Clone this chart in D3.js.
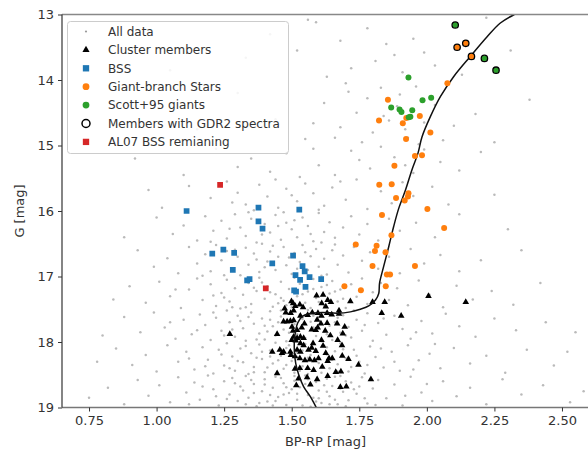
<!DOCTYPE html>
<html>
<head>
<meta charset="utf-8">
<script src="https://cdn.jsdelivr.net/npm/d3@7"></script>
<style>
  body { margin: 0; background: #fff; }
  text { font-family: "DejaVu Sans", sans-serif; }
</style>
</head>
<body>
<script>
// axis ticks
const xTicks = [0.75, 1.00, 1.25, 1.50, 1.75, 2.00, 2.25, 2.50];
const yTicks = [13, 14, 15, 16, 17, 18, 19];

// legend labels
const legendLabels = ["All data", "Cluster members", "BSS", "Giant-branch Stars",
  "Scott+95 giants", "Members with GDR2 spectra", "AL07 BSS remianing"];

// all data (BP-RP, G)
const allData = [
  [1.52,13.55],[1.56,13.08],[1.59,13.12],[1.78,13.21],[1.85,13.45],[1.88,13.62],[1.91,13.88],[1.72,13.82],[1.95,13.37],[2.03,13.78],[2.22,13.05],[1.42,13.30],[1.63,13.95],[1.99,13.58],[1.81,13.71],[2.13,13.92],[1.33,13.66],[1.68,13.40],[2.31,13.55],[1.05,13.85],
  [1.70,14.05],[1.78,14.28],[1.74,14.50],[1.83,14.12],[1.90,14.22],[1.96,14.10],[2.03,14.38],[1.86,14.62],[1.80,14.80],[1.68,14.72],[1.93,14.88],[2.10,14.70],[2.18,14.52],[1.62,14.35],[1.55,14.90],[1.99,14.65],[1.76,14.95],[1.44,14.60],[2.25,14.95],[1.89,14.40],[1.97,14.98],[1.71,14.18],[1.30,14.20],[2.06,14.92],[1.84,14.55],[1.58,14.66],[2.38,14.30],[1.15,14.75],[1.66,14.88],[1.92,14.75],
  [1.22,15.05],[1.35,15.20],[1.48,15.12],[1.60,15.30],[1.72,15.08],[1.79,15.35],[1.88,15.18],[1.95,15.42],[2.05,15.25],[1.66,15.45],[1.42,15.40],[1.53,15.48],[1.83,15.02],[2.12,15.38],[1.92,15.30],[1.10,15.45],[1.30,15.33],[1.75,15.22],[2.20,15.10],[1.58,15.05],[0.92,15.20],[1.99,15.06],
  [1.12,15.62],[1.20,15.80],[1.26,15.55],[1.30,15.72],[1.33,15.90],[1.38,15.60],[1.41,15.78],[1.45,15.95],[1.48,15.66],[1.52,15.85],[1.55,15.58],[1.58,15.73],[1.62,15.92],[1.65,15.64],[1.70,15.83],[1.74,15.52],[1.78,15.97],[1.83,15.70],[1.87,15.88],[1.91,15.56],[1.95,15.77],[2.02,15.63],[2.08,15.90],[1.02,15.95],[1.36,15.99],[1.44,15.52],[1.60,15.98],[1.28,15.87],[1.50,15.76],[1.68,15.55],[2.25,15.75],[0.97,15.68],
  [1.00,16.10],[1.06,16.35],[1.10,16.22],[1.15,16.45],[1.18,16.08],[1.21,16.30],[1.24,16.15],[1.26,16.42],[1.29,16.05],[1.31,16.25],[1.33,16.38],[1.35,16.12],[1.37,16.48],[1.40,16.20],[1.42,16.33],[1.44,16.06],[1.46,16.44],[1.48,16.18],[1.50,16.28],[1.52,16.40],[1.54,16.10],[1.56,16.23],[1.58,16.46],[1.60,16.03],[1.62,16.32],[1.64,16.17],[1.66,16.41],[1.69,16.25],[1.72,16.08],[1.75,16.36],[1.78,16.20],[1.82,16.45],[1.86,16.12],[1.90,16.30],[1.96,16.18],[2.03,16.40],[2.12,16.05],[1.27,16.27],[1.39,16.36],[1.45,16.23],[1.51,16.14],[1.57,16.35],[1.34,16.02],[1.61,16.48],[1.47,16.02],[0.88,16.40],[2.30,16.28],[1.20,16.47],
  [0.93,16.60],[0.99,16.85],[1.04,16.72],[1.08,16.95],[1.12,16.55],[1.15,16.80],[1.18,16.66],[1.20,16.92],[1.22,16.52],[1.24,16.75],[1.26,16.61],[1.28,16.88],[1.30,16.70],[1.31,16.98],[1.33,16.56],[1.34,16.82],[1.36,16.65],[1.38,16.93],[1.39,16.50],[1.41,16.77],[1.42,16.62],[1.44,16.90],[1.45,16.70],[1.47,16.55],[1.48,16.83],[1.50,16.96],[1.51,16.64],[1.53,16.78],[1.54,16.52],[1.56,16.90],[1.57,16.69],[1.59,16.58],[1.60,16.85],[1.62,16.73],[1.63,16.97],[1.65,16.60],[1.67,16.82],[1.69,16.68],[1.71,16.94],[1.73,16.55],[1.76,16.76],[1.79,16.63],[1.82,16.88],[1.86,16.70],[1.90,16.95],[1.94,16.58],[1.99,16.80],[2.05,16.67],[2.12,16.92],[2.20,16.75],[1.25,16.98],[1.37,16.74],[1.43,16.53],[1.49,16.71],[1.55,16.63],[1.61,16.99],[1.66,16.51],[1.29,16.59],[1.17,16.99],[2.35,16.60],[1.52,16.88],[1.40,16.86],
  [0.90,17.15],[0.96,17.40],[1.01,17.08],[1.05,17.30],[1.09,17.48],[1.12,17.20],[1.15,17.03],[1.17,17.36],[1.20,17.12],[1.22,17.45],[1.24,17.25],[1.26,17.05],[1.27,17.38],[1.29,17.18],[1.31,17.49],[1.32,17.28],[1.34,17.10],[1.35,17.42],[1.37,17.22],[1.38,17.02],[1.40,17.34],[1.41,17.15],[1.43,17.46],[1.44,17.27],[1.46,17.08],[1.47,17.37],[1.49,17.19],[1.50,17.47],[1.52,17.30],[1.53,17.11],[1.55,17.40],[1.56,17.23],[1.58,17.04],[1.59,17.33],[1.61,17.16],[1.62,17.45],[1.64,17.26],[1.65,17.07],[1.67,17.38],[1.68,17.20],[1.70,17.48],[1.72,17.12],[1.74,17.31],[1.76,17.03],[1.78,17.42],[1.80,17.24],[1.83,17.10],[1.86,17.36],[1.89,17.18],[1.93,17.44],[1.97,17.06],[2.01,17.28],[2.06,17.47],[2.11,17.14],[2.17,17.35],[2.24,17.22],[2.32,17.43],[2.42,17.10],[1.25,17.32],[1.33,17.47],[1.39,17.09],[1.45,17.41],[1.51,17.02],[1.57,17.48],[1.63,17.13],[1.69,17.34],[1.36,17.17],[1.42,17.24],[1.48,17.44],[1.54,17.27],[1.60,17.39],[1.66,17.23],[1.21,17.29],[1.28,17.47],[1.46,17.33],[1.58,17.19],[1.07,17.20],[0.84,17.35],
  [0.88,17.62],[0.94,17.85],[0.99,17.55],[1.03,17.78],[1.07,17.95],[1.10,17.66],[1.13,17.88],[1.16,17.58],[1.18,17.74],[1.20,17.97],[1.22,17.63],[1.24,17.83],[1.26,17.52],[1.27,17.70],[1.29,17.92],[1.30,17.60],[1.32,17.79],[1.33,17.98],[1.35,17.55],[1.36,17.72],[1.38,17.87],[1.39,17.64],[1.40,17.96],[1.42,17.53],[1.43,17.76],[1.44,17.90],[1.46,17.61],[1.47,17.81],[1.48,17.99],[1.50,17.57],[1.51,17.73],[1.52,17.88],[1.54,17.65],[1.55,17.94],[1.56,17.51],[1.58,17.78],[1.59,17.91],[1.60,17.62],[1.62,17.84],[1.63,17.54],[1.65,17.97],[1.66,17.70],[1.68,17.86],[1.69,17.59],[1.71,17.77],[1.72,17.93],[1.74,17.66],[1.76,17.83],[1.78,17.56],[1.80,17.98],[1.82,17.71],[1.85,17.89],[1.88,17.60],[1.91,17.80],[1.94,17.95],[1.98,17.68],[2.02,17.87],[2.07,17.57],[2.12,17.76],[2.18,17.92],[2.25,17.64],[2.33,17.82],[2.44,17.70],[1.25,17.90],[1.31,17.68],[1.37,17.96],[1.41,17.84],[1.45,17.70],[1.49,17.86],[1.53,17.58],[1.57,17.69],[1.61,17.99],[1.64,17.75],[1.67,17.63],[1.70,17.90],[1.34,17.62],[1.28,17.81],[1.21,17.55],[1.15,17.82],[1.40,17.75],[1.46,17.52],[1.52,17.97],[1.58,17.60],[1.63,17.88],[1.73,17.52],[1.77,17.74],[1.84,17.64],[1.96,17.85],[1.05,17.70],[0.80,17.90],[2.55,17.85],[1.42,17.66],
  [0.85,18.10],[0.91,18.35],[0.96,18.20],[1.00,18.45],[1.04,18.05],[1.08,18.30],[1.11,18.15],[1.14,18.42],[1.17,18.08],[1.19,18.27],[1.21,18.48],[1.23,18.12],[1.25,18.36],[1.26,18.02],[1.28,18.22],[1.29,18.44],[1.31,18.10],[1.32,18.31],[1.34,18.49],[1.35,18.17],[1.36,18.38],[1.38,18.04],[1.39,18.26],[1.40,18.46],[1.42,18.13],[1.43,18.33],[1.44,18.01],[1.46,18.21],[1.47,18.41],[1.48,18.09],[1.50,18.29],[1.51,18.47],[1.52,18.16],[1.54,18.37],[1.55,18.03],[1.56,18.24],[1.58,18.43],[1.59,18.11],[1.60,18.32],[1.62,18.06],[1.63,18.19],[1.64,18.40],[1.66,18.14],[1.67,18.34],[1.68,18.02],[1.70,18.25],[1.71,18.45],[1.73,18.12],[1.75,18.30],[1.77,18.48],[1.79,18.07],[1.81,18.23],[1.84,18.39],[1.87,18.15],[1.90,18.44],[1.93,18.05],[1.97,18.28],[2.01,18.18],[2.05,18.40],[2.10,18.09],[2.16,18.33],[2.22,18.21],[2.29,18.47],[2.37,18.12],[2.47,18.36],[1.27,18.40],[1.33,18.06],[1.37,18.24],[1.41,18.39],[1.45,18.28],[1.49,18.05],[1.53,18.44],[1.57,18.20],[1.61,18.47],[1.65,18.27],[1.69,18.11],[1.72,18.38],[1.30,18.29],[1.24,18.19],[1.18,18.37],[1.12,18.25],[1.36,18.46],[1.42,18.22],[1.48,18.35],[1.54,18.13],[1.58,18.29],[1.63,18.08],[1.67,18.45],[1.74,18.21],[1.78,18.35],[1.83,18.10],[1.88,18.30],[1.95,18.42],[2.03,18.03],[1.46,18.11],[1.52,18.23],[1.39,18.15],[1.56,18.49],[0.78,18.30],[2.52,18.15],
  [0.82,18.70],[0.88,18.95],[0.93,18.58],[0.97,18.82],[1.01,18.66],[1.05,18.92],[1.08,18.54],[1.11,18.77],[1.14,18.62],[1.16,18.88],[1.19,18.51],[1.21,18.72],[1.23,18.97],[1.25,18.60],[1.27,18.80],[1.28,18.55],[1.30,18.90],[1.31,18.68],[1.33,18.52],[1.34,18.85],[1.36,18.64],[1.37,18.98],[1.39,18.75],[1.40,18.57],[1.41,18.91],[1.43,18.70],[1.44,18.53],[1.45,18.84],[1.47,18.63],[1.48,18.96],[1.49,18.78],[1.51,18.59],[1.52,18.88],[1.53,18.69],[1.55,18.51],[1.56,18.81],[1.57,18.99],[1.59,18.61],[1.60,18.74],[1.61,18.93],[1.63,18.56],[1.64,18.83],[1.65,18.67],[1.67,18.95],[1.68,18.52],[1.69,18.76],[1.71,18.89],[1.72,18.62],[1.74,18.79],[1.76,18.54],[1.78,18.94],[1.80,18.71],[1.82,18.58],[1.85,18.86],[1.88,18.65],[1.91,18.97],[1.94,18.53],[1.98,18.77],[2.02,18.90],[2.06,18.60],[2.11,18.83],[2.16,18.70],[2.22,18.95],[2.28,18.57],[2.35,18.80],[2.43,18.66],[2.53,18.92],[1.26,18.87],[1.32,18.74],[1.35,18.58],[1.38,18.93],[1.42,18.81],[1.46,18.55],[1.50,18.72],[1.54,18.97],[1.58,18.85],[1.62,18.66],[1.66,18.53],[1.70,18.98],[1.73,18.72],[1.77,18.86],[1.29,18.63],[1.22,18.83],[1.17,18.68],[1.43,18.97],[1.47,18.80],[1.51,18.52],[1.55,18.64],[1.59,18.91],[1.63,18.76],[1.66,18.88],[1.70,18.60],[1.75,18.68],[1.81,18.96],[1.36,18.78],[1.40,18.65],[1.44,18.90],[1.48,18.69],[1.52,18.79],[1.56,18.57],[1.60,18.86],[1.64,18.95],[1.68,18.71],[1.33,18.95],[1.92,18.82],[2.00,18.64],[0.75,18.85],[1.12,18.95],[2.58,18.75]
];

// cluster members
const members = [
  [1.592,17.29],[1.616,17.28],[1.633,17.36],[1.611,17.41],[1.645,17.39],[1.626,17.46],[1.499,17.38],[1.505,17.41],
  [1.513,17.45],[1.530,17.43],[1.542,17.47],[1.474,17.49],[1.478,17.55],[1.496,17.56],[1.507,17.52],[1.532,17.60],
  [1.559,17.59],[1.576,17.55],[1.597,17.56],[1.610,17.60],[1.631,17.56],[1.648,17.58],[1.675,17.52],[1.675,17.57],
  [1.717,17.38],[1.470,17.69],[1.483,17.69],[1.495,17.68],[1.507,17.67],[1.547,17.72],[1.594,17.66],[1.608,17.72],
  [1.631,17.71],[1.668,17.72],[1.501,17.77],[1.505,17.83],[1.520,17.82],[1.537,17.78],[1.574,17.81],[1.589,17.82],
  [1.596,17.78],[1.624,17.83],[1.696,17.77],[1.446,17.88],[1.507,17.92],[1.520,17.94],[1.532,17.92],[1.544,17.94],
  [1.515,17.98],[1.532,18.02],[1.500,17.97],[1.579,18.02],[1.610,17.97],[1.643,17.90],[1.670,17.97],[1.686,18.05],
  [1.616,18.06],[1.574,18.09],[1.589,18.14],[1.562,18.12],[1.544,18.05],[1.532,18.15],[1.520,18.12],[1.495,18.15],
  [1.497,18.20],[1.470,18.15],[1.456,18.12],[1.428,18.15],[1.464,18.17],[1.512,18.22],[1.530,18.25],[1.549,18.28],
  [1.567,18.27],[1.584,18.28],[1.599,18.25],[1.626,18.17],[1.638,18.25],[1.650,18.25],[1.633,18.29],[1.687,18.21],
  [1.710,18.26],[1.747,18.35],[1.613,18.38],[1.512,18.41],[1.530,18.40],[1.559,18.40],[1.581,18.43],[1.663,18.46],
  [1.682,18.45],[1.446,18.48],[1.525,18.56],[1.557,18.54],[1.594,18.57],[1.633,18.52],[1.793,18.57],[1.517,18.66],
  [1.569,18.65],[1.680,18.69],[1.702,18.68],[1.271,17.88],[1.844,17.39],[1.799,17.39],[1.833,17.56],[1.905,17.60],
  [2.006,17.30],[2.144,17.39],[1.689,17.87]
];

// blue stragglers
const bss = [
  [1.111,16.00],[1.377,15.95],[1.528,15.98],[1.377,16.16],[1.392,16.27],[1.206,16.65],[1.247,16.59],[1.287,16.64],
  [1.505,16.68],[1.282,16.90],[1.428,16.80],[1.540,16.84],[1.548,16.92],[1.344,17.04],[1.335,17.06],[1.514,16.98],
  [1.566,17.01],[1.531,17.05],[1.609,17.04],[1.551,17.16],[1.509,17.21],[1.516,17.23]
];

// giant-branch stars
const giants = [
  [2.112,13.50],[2.144,13.44],[2.165,13.64],[2.076,14.05],[1.856,14.30],[1.823,14.62],[1.924,14.58],[1.974,14.55],
  [1.911,14.66],[2.013,14.80],[1.923,14.90],[1.956,15.16],[1.982,15.15],[1.880,15.31],[1.824,15.60],[1.870,15.59],
  [1.932,15.73],[1.930,15.78],[1.886,15.80],[1.918,15.84],[2.002,15.97],[1.834,16.06],[2.064,16.26],[1.869,16.37],
  [1.737,16.51],[1.814,16.53],[1.808,16.61],[1.847,16.63],[1.799,16.84],[1.956,16.84],[1.852,16.97],[1.864,16.97],
  [1.695,17.15],[1.756,17.21],[1.848,17.15]
];

// Scott+95 giants
const scott = [
  [2.105,13.16],[2.213,13.67],[2.256,13.85],[1.932,13.96],[1.984,14.31],[2.016,14.27],[1.868,14.42],[1.899,14.45],
  [1.906,14.49],[1.946,14.46],[1.939,14.56],[1.933,14.57]
];

// members with GDR2 spectra
const spectra = [
  [2.105,13.16],[2.112,13.50],[2.144,13.44],[2.165,13.64],[2.213,13.67],[2.256,13.85]
];

// AL07 BSS remaining
const al07 = [[1.235,15.60],[1.404,17.18]];

// isochrone
const isoX = [1.592,1.569,1.544,1.526,1.515,1.510,1.510,1.515,1.522,1.539,1.563,1.612,1.668,1.717,1.754,1.785,
  1.810,1.822,1.825,1.840,1.859,1.877,1.896,1.921,1.945,1.967,1.982,2.013,2.050,2.099,2.161,2.223,2.272,2.324];
const isoG = [19.01,18.835,18.68,18.50,18.33,18.15,17.97,17.82,17.71,17.61,17.57,17.55,17.56,17.54,17.50,17.45,
  17.36,17.26,17.10,16.85,16.545,16.24,15.96,15.68,15.37,15.12,14.87,14.56,14.255,13.95,13.64,13.34,13.13,13.0];

const width = 588, height = 454;
const m = { left: 62, right: 589, top: 14.5, bottom: 407.5 };

const svg = d3.select("body").append("svg")
  .attr("width", width)
  .attr("height", height);

const x = d3.scaleLinear().domain([0.65, 2.6]).range([m.left, m.right]);
const y = d3.scaleLinear().domain([13, 19]).range([m.top, m.bottom]);

svg.append("clipPath").attr("id", "clip")
  .append("rect")
  .attr("x", m.left).attr("y", m.top)
  .attr("width", m.right - m.left).attr("height", m.bottom - m.top);

const plot = svg.append("g").attr("clip-path", "url(#clip)");

// all data
plot.append("g").selectAll("circle")
  .data(allData).enter().append("circle")
  .attr("cx", d => x(d[0])).attr("cy", d => y(d[1]))
  .attr("r", 1.25)
  .attr("fill", "#8c8c8c")
  .attr("opacity", 0.6);

// cluster members
const tri = d3.symbol().type(d3.symbolTriangle).size(19);
plot.append("g").selectAll("path")
  .data(members).enter().append("path")
  .attr("d", tri)
  .attr("transform", d => `translate(${x(d[0])},${y(d[1])})`)
  .attr("fill", "#000");

// isochrone
const iso = isoX.map((v, i) => [v, isoG[i]]);
plot.append("path")
  .datum(iso)
  .attr("d", d3.line().x(d => x(d[0])).y(d => y(d[1])).curve(d3.curveCatmullRom.alpha(0.5)))
  .attr("fill", "none")
  .attr("stroke", "#111")
  .attr("stroke-width", 1.5);

// BSS
const sq = d3.symbol().type(d3.symbolSquare).size(33);
plot.append("g").selectAll("path")
  .data(bss).enter().append("path")
  .attr("d", sq)
  .attr("transform", d => `translate(${x(d[0])},${y(d[1])})`)
  .attr("fill", "#1f77b4");

// giant-branch
plot.append("g").selectAll("circle")
  .data(giants).enter().append("circle")
  .attr("cx", d => x(d[0])).attr("cy", d => y(d[1]))
  .attr("r", 3)
  .attr("fill", "#ff7f0e");

// scott giants
plot.append("g").selectAll("circle")
  .data(scott).enter().append("circle")
  .attr("cx", d => x(d[0])).attr("cy", d => y(d[1]))
  .attr("r", 3)
  .attr("fill", "#2ca02c");

// spectra rings
plot.append("g").selectAll("circle")
  .data(spectra).enter().append("circle")
  .attr("cx", d => x(d[0])).attr("cy", d => y(d[1]))
  .attr("r", 3.2)
  .attr("fill", "none")
  .attr("stroke", "#000")
  .attr("stroke-width", 1.3);

// AL07
plot.append("g").selectAll("path")
  .data(al07).enter().append("path")
  .attr("d", sq)
  .attr("transform", d => `translate(${x(d[0])},${y(d[1])})`)
  .attr("fill", "#d62728");

// spines
svg.append("line").attr("x1", m.left).attr("x2", m.right).attr("y1", m.top).attr("y2", m.top)
  .attr("stroke", "#888").attr("stroke-width", 1.6);
svg.append("line").attr("x1", m.left).attr("x2", m.right).attr("y1", m.bottom).attr("y2", m.bottom)
  .attr("stroke", "#777").attr("stroke-width", 1.4);
svg.append("line").attr("x1", m.left).attr("x2", m.left).attr("y1", m.top).attr("y2", m.bottom)
  .attr("stroke", "#333").attr("stroke-width", 1.2);

// axes
const xAxis = svg.append("g")
  .attr("transform", `translate(0,${m.bottom})`)
  .call(d3.axisBottom(x).tickValues(xTicks).tickFormat(d3.format(".2f")).tickSize(4).tickPadding(4));
const yAxis = svg.append("g")
  .attr("transform", `translate(${m.left},0)`)
  .call(d3.axisLeft(y).tickValues(yTicks).tickFormat(d3.format("d")).tickSize(4).tickPadding(4));
[xAxis, yAxis].forEach(a => {
  a.select(".domain").remove();
  a.selectAll("line").attr("stroke", "#333");
  a.selectAll("text").attr("font-size", 13).attr("fill", "#333")
    .attr("font-family", "DejaVu Sans");
});

svg.append("text")
  .attr("x", (m.left + m.right) / 2).attr("y", 446)
  .attr("text-anchor", "middle").attr("font-size", 13).attr("fill", "#333")
  .text("BP-RP [mag]");
svg.append("text")
  .attr("transform", `translate(24,${(m.top + m.bottom) / 2}) rotate(-90)`)
  .attr("text-anchor", "middle").attr("font-size", 13).attr("fill", "#333")
  .text("G [mag]");

// legend
const lg = svg.append("g");
lg.append("rect")
  .attr("x", 67.5).attr("y", 21.5).attr("width", 221).attr("height", 132).attr("rx", 3)
  .attr("fill", "#fff").attr("fill-opacity", 0.85)
  .attr("stroke", "#ccc").attr("stroke-width", 1);
const rowY = i => 31.5 + i * 18.4;
const mx = 86;
lg.append("circle").attr("cx", mx).attr("cy", rowY(0)).attr("r", 1.1).attr("fill", "#9a9a9a");
lg.append("path").attr("d", d3.symbol().type(d3.symbolTriangle).size(22))
  .attr("transform", `translate(${mx},${rowY(1)})`).attr("fill", "#000");
lg.append("path").attr("d", d3.symbol().type(d3.symbolSquare).size(40))
  .attr("transform", `translate(${mx},${rowY(2)})`).attr("fill", "#1f77b4");
lg.append("circle").attr("cx", mx).attr("cy", rowY(3)).attr("r", 3.4).attr("fill", "#ff7f0e");
lg.append("circle").attr("cx", mx).attr("cy", rowY(4)).attr("r", 3.4).attr("fill", "#2ca02c");
lg.append("circle").attr("cx", mx).attr("cy", rowY(5)).attr("r", 4).attr("fill", "none")
  .attr("stroke", "#000").attr("stroke-width", 1.5);
lg.append("path").attr("d", d3.symbol().type(d3.symbolSquare).size(40))
  .attr("transform", `translate(${mx},${rowY(6)})`).attr("fill", "#d62728");
lg.selectAll("text.lbl")
  .data(legendLabels).enter().append("text")
  .attr("class", "lbl")
  .attr("x", 108).attr("y", (d, i) => rowY(i))
  .attr("dy", "0.35em")
  .attr("font-size", 12).attr("fill", "#333")
  .text(d => d);
</script>
</body>
</html>
